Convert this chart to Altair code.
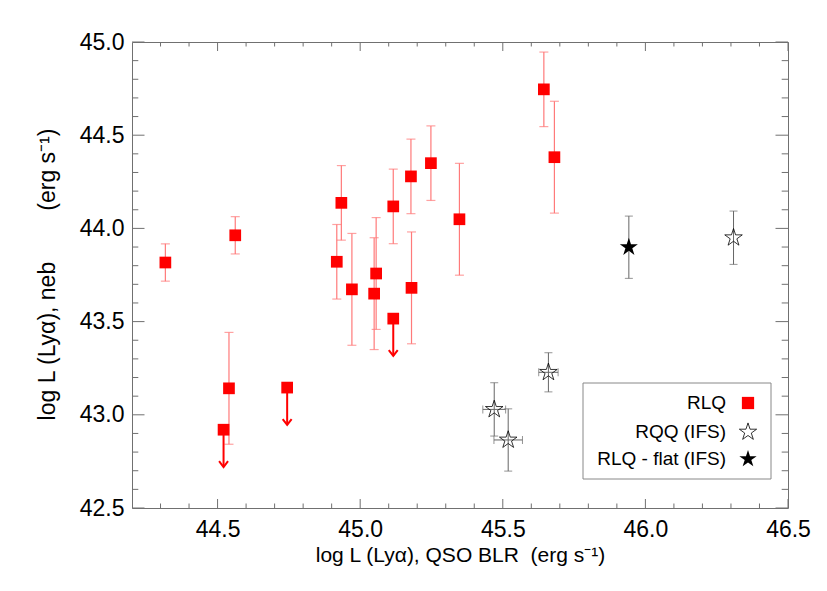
import altair as alt
import pandas as pd
import numpy as np

# ---------------- data ----------------
# RLQ detections
rlq_x = [44.317, 44.562, 44.540, 44.934, 44.918, 44.971, 45.056, 45.049,
         45.116, 45.178, 45.180, 45.248, 45.348, 45.644, 45.681]
rlq_y = [43.817, 43.963, 43.142, 44.137, 43.821, 43.673, 43.758, 43.650,
         44.118, 44.279, 43.681, 44.350, 44.049, 44.746, 44.382]
rlq_err = [0.10, 0.10, 0.30, 0.20, 0.20, 0.30, 0.30, 0.30,
           0.20, 0.20, 0.30, 0.20, 0.30, 0.20, 0.30]
# RLQ upper limits
lim_x = [44.521, 44.744, 45.116]
lim_y = [42.920, 43.146, 43.516]
# RQQ (IFS)
rqq_x = [45.470, 45.519, 45.660, 46.309]
rqq_y = [43.029, 42.865, 43.228, 43.950]
rqq_xerr = [0.040, 0.050, 0.034, 0.0]
rqq_yerr = [0.143, 0.167, 0.105, 0.143]
# RLQ - flat (IFS)
flat_x = [45.942]
flat_y = [43.899]
flat_yerr = [0.167]

x_major = [44.5, 45.0, 45.5, 46.0, 46.5]
y_major = [42.5, 43.0, 43.5, 44.0, 44.5, 45.0]
legend_labels = ["RLQ", "RQQ (IFS)", "RLQ - flat (IFS)"]

# ---------------- style ----------------
W, H = 656, 466
FONT = "Liberation Sans"
RED = "#ff0000"
ERR_RED = "#ff7a7a"
GREY = "#666666"
FRAME = "#707070"
STAR = ("M0,-1L0.2245,-0.309L0.9511,-0.309L0.3633,0.118L0.5878,0.809"
        "L0,0.382L-0.5878,0.809L-0.3633,0.118L-0.9511,-0.309L-0.2245,-0.309Z")
ARROW = "M-1,-1.3L0,0L1,-1.3"
NB = "\u00a0"

xs = alt.Scale(domain=[44.2, 46.5], nice=False, zero=False)
ys = alt.Scale(domain=[42.5, 45.0], nice=False, zero=False)


def xenc(f):
    return alt.X(f"{f}:Q", scale=xs)


def yenc(f):
    return alt.Y(f"{f}:Q", scale=ys)


rlq = pd.DataFrame({"x": rlq_x, "y": rlq_y, "e": rlq_err})
lim = pd.DataFrame({"x": lim_x, "y": lim_y})
rqq = pd.DataFrame({"x": rqq_x, "y": rqq_y, "xe": rqq_xerr, "ye": rqq_yerr})
flat = pd.DataFrame({"x": flat_x, "y": flat_y, "ye": flat_yerr})

# axes layer (labels + titles only)
axes = alt.Chart(pd.DataFrame({"x": [44.2], "y": [42.5]})).mark_point(opacity=0).encode(
    x=alt.X("x:Q", scale=xs, axis=alt.Axis(
        values=x_major, format=".1f", labelPadding=10,
        title="log L (Lyα), QSO BLR" + NB * 2 + "(erg s⁻¹)",
        titleX=W / 2, titleY=47, titleBaseline="middle")),
    y=alt.Y("y:Q", scale=ys, axis=alt.Axis(
        values=y_major, format=".1f", labelPadding=8,
        title="log L (Lyα), neb" + NB * 8 + "(erg s⁻¹)", titleFontSize=23,
        titleX=-85, titleY=232, titleAngle=-90, titleBaseline="middle",
        titleAlign="center")),
)

# frame ticks
x_minor = [round(v, 1) for v in np.arange(44.3, 46.45, 0.1) if round(v, 1) not in x_major]
y_minor = [round(v, 1) for v in np.arange(42.6, 44.95, 0.1) if round(v, 1) not in y_major]


def xticks(vals, ln):
    d = pd.DataFrame({"v": vals})
    b = alt.Chart(d).mark_rule(color=FRAME, strokeWidth=1)
    return (b.encode(x=xenc("v"), y=alt.value(H), y2=alt.value(H - ln)) +
            b.encode(x=xenc("v"), y=alt.value(0), y2=alt.value(ln)))


def yticks(vals, ln):
    d = pd.DataFrame({"v": vals})
    b = alt.Chart(d).mark_rule(color=FRAME, strokeWidth=1)
    return (b.encode(y=yenc("v"), x=alt.value(0), x2=alt.value(ln)) +
            b.encode(y=yenc("v"), x=alt.value(W), x2=alt.value(W - ln)))


ticks = xticks(x_major, 9) + xticks(x_minor, 4.5) + yticks(y_major, 12.5) + yticks(y_minor, 6.3)

# RLQ error bars
rb = alt.Chart(rlq).transform_calculate(lo="datum.y - datum.e", hi="datum.y + datum.e")
rlq_bar = rb.mark_rule(color=ERR_RED, strokeWidth=1.2).encode(
    x=xenc("x"), y=yenc("lo"), y2="hi:Q")
rlq_cap = rb.transform_fold(["lo", "hi"], as_=["k", "v"]).mark_tick(
    orient="horizontal", size=9, thickness=1.2, color=ERR_RED).encode(x=xenc("x"), y=yenc("v"))
rlq_pt = alt.Chart(rlq).mark_square(size=137, color=RED, opacity=1).encode(x=xenc("x"), y=yenc("y"))

# upper limits
lb = alt.Chart(lim).transform_calculate(tip="datum.y - 0.2")
lim_line = lb.mark_rule(color=RED, strokeWidth=2).encode(x=xenc("x"), y=yenc("y"), y2="tip:Q")
lim_head = lb.mark_point(shape=ARROW, size=80, filled=False, color=RED, strokeWidth=2,
                         opacity=1).encode(x=xenc("x"), y=yenc("tip"))
lim_pt = alt.Chart(lim).mark_square(size=137, color=RED, opacity=1).encode(x=xenc("x"), y=yenc("y"))

# RQQ stars
qb = alt.Chart(rqq).transform_calculate(
    lo="datum.y - datum.ye", hi="datum.y + datum.ye",
    xl="datum.x - datum.xe", xh="datum.x + datum.xe")
rqq_vbar = qb.mark_rule(color=GREY, strokeWidth=1).encode(x=xenc("x"), y=yenc("lo"), y2="hi:Q")
rqq_vcap = qb.transform_fold(["lo", "hi"], as_=["k", "v"]).mark_tick(
    orient="horizontal", size=8, thickness=1, color=GREY).encode(x=xenc("x"), y=yenc("v"))
qh = qb.transform_filter("datum.xe > 0")
rqq_hbar = qh.mark_rule(color=GREY, strokeWidth=1).encode(x=xenc("xl"), x2="xh:Q", y=yenc("y"))
rqq_hcap = qh.transform_fold(["xl", "xh"], as_=["k", "v"]).mark_tick(
    orient="vertical", size=8, thickness=1, color=GREY).encode(x=xenc("v"), y=yenc("y"))
rqq_pt = alt.Chart(rqq).mark_point(shape=STAR, size=340, filled=False, color="black",
                                   strokeWidth=0.8, opacity=1).encode(x=xenc("x"), y=yenc("y"))

# flat RLQ star
fb = alt.Chart(flat).transform_calculate(lo="datum.y - datum.ye", hi="datum.y + datum.ye")
flat_bar = fb.mark_rule(color=GREY, strokeWidth=1).encode(x=xenc("x"), y=yenc("lo"), y2="hi:Q")
flat_cap = fb.transform_fold(["lo", "hi"], as_=["k", "v"]).mark_tick(
    orient="horizontal", size=8, thickness=1, color=GREY).encode(x=xenc("x"), y=yenc("v"))
flat_pt = alt.Chart(flat).mark_point(shape=STAR, size=360, filled=True, color="black",
                                     opacity=1).encode(x=xenc("x"), y=yenc("y"))

# legend
one = pd.DataFrame({"a": [0]})
lg_box = alt.Chart(one).mark_rect(fill="white", stroke="#888888", strokeWidth=1).encode(
    x=alt.value(451), x2=alt.value(639), y=alt.value(341), y2=alt.value(437))
rows = [361, 390, 417]
lg = lg_box
for lab, ry in zip(legend_labels, rows):
    lg = lg + alt.Chart(one).mark_text(text=lab, align="right", baseline="middle",
                                       font=FONT, fontSize=19, color="black").encode(
        x=alt.value(594), y=alt.value(ry))
lg = lg + alt.Chart(one).mark_square(size=150, color=RED, opacity=1).encode(
    x=alt.value(616), y=alt.value(rows[0]))
lg = lg + alt.Chart(one).mark_point(shape=STAR, size=330, filled=False, color="black",
                                    strokeWidth=0.8, opacity=1).encode(
    x=alt.value(616), y=alt.value(rows[1]))
lg = lg + alt.Chart(one).mark_point(shape=STAR, size=330, filled=True, color="black",
                                    opacity=1).encode(
    x=alt.value(616), y=alt.value(rows[2]))

chart = alt.layer(
    axes, ticks,
    rlq_bar, rlq_cap, rlq_pt,
    lim_line, lim_head, lim_pt,
    rqq_vbar, rqq_vcap, rqq_hbar, rqq_hcap, rqq_pt,
    flat_bar, flat_cap, flat_pt,
    lg,
).properties(
    width=W, height=H,
    autosize=alt.AutoSizeParams(type="none"),
    padding={"left": 124, "top": 34, "right": 31, "bottom": 75},
    background="white",
).configure_view(stroke=FRAME, strokeWidth=1).configure_axis(
    ticks=False, domain=False, grid=False, labelFlush=False,
    labelFont=FONT, labelFontSize=23, labelColor="black",
    titleFont=FONT, titleFontSize=21, titleFontWeight="normal", titleColor="black",
)

chart.save("out.html", embed_options={"renderer": "svg", "actions": False})
